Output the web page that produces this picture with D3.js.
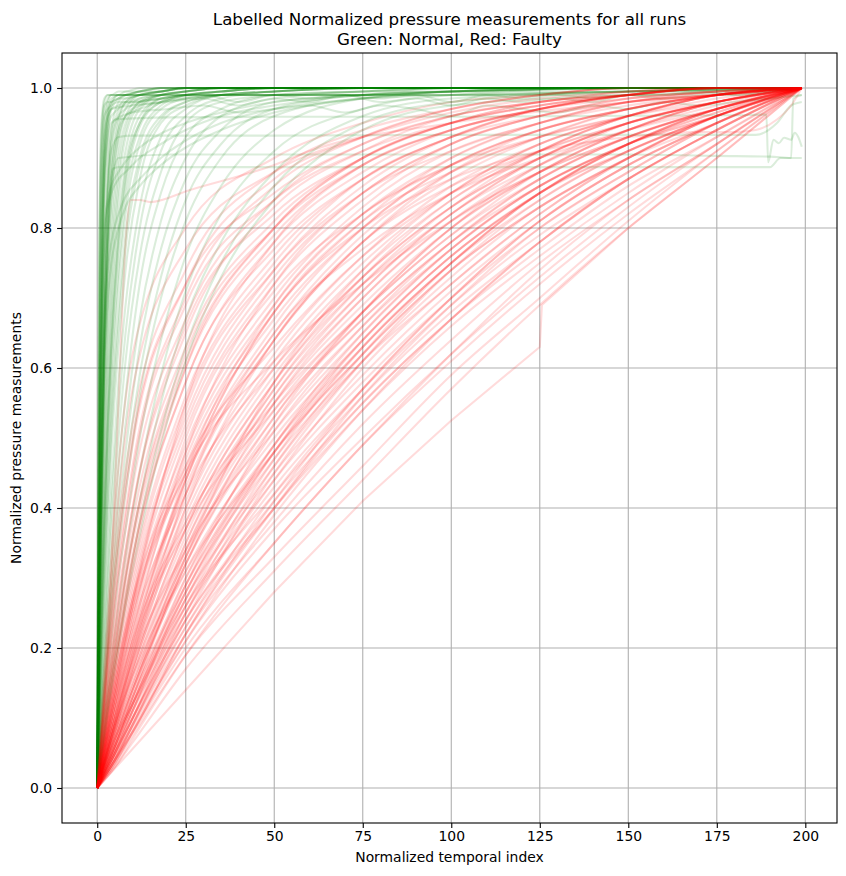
<!DOCTYPE html>
<html>
<head>
<meta charset="utf-8">
<script src="https://cdn.jsdelivr.net/npm/d3@7"></script>
<style>
  html, body { margin: 0; padding: 0; background: #fff; }
  svg { display: block; }
  text { font-family: "DejaVu Sans", sans-serif; fill: #000; }
</style>
</head>
<body>
<svg id="chart" width="846" height="876"></svg>
<script>
// ---------------- DATA ----------------
const titleLines = ["Labelled Normalized pressure measurements for all runs", "Green: Normal, Red: Faulty"];
const xLabel = "Normalized temporal index";
const yLabel = "Normalized pressure measurements";
const xTicks = [0, 25, 50, 75, 100, 125, 150, 175, 200];
const yTicks = [0.0, 0.2, 0.4, 0.6, 0.8, 1.0];

// Faulty runs (red): values sampled at these temporal indices
const redX = [0, 5, 10, 25, 50, 75, 100, 125, 150, 175, 199];
const redRuns = [
  [0,.03,.065,.17,.31,.44,.57,.69,.80,.90,1],
  [0,.035,.075,.19,.33,.46,.59,.70,.81,.91,1],
  [0,.04,.08,.20,.35,.49,.61,.72,.82,.91,1],
  [0,.04,.085,.21,.37,.50,.62,.73,.83,.92,1],
  [0,.045,.09,.22,.38,.52,.64,.75,.84,.92,1],
  [0,.05,.10,.24,.40,.54,.66,.76,.85,.93,1],
  [0,.05,.10,.24,.41,.55,.67,.77,.86,.93,1],
  [0,.055,.11,.25,.43,.57,.69,.79,.87,.94,1],
  [0,.055,.11,.26,.44,.58,.70,.80,.88,.95,1],
  [0,.06,.12,.27,.45,.59,.71,.81,.89,.95,1],
  [0,.06,.12,.28,.47,.61,.72,.82,.90,.96,1],
  [0,.065,.13,.29,.48,.62,.74,.83,.90,.96,1],
  [0,.07,.13,.30,.49,.63,.75,.84,.91,.96,1],
  [0,.07,.14,.31,.50,.64,.76,.85,.92,.97,1],
  [0,.075,.14,.32,.52,.66,.77,.86,.92,.97,1],
  [0,.08,.15,.33,.53,.67,.78,.87,.93,.97,1],
  [0,.08,.16,.34,.55,.69,.80,.88,.94,.98,1],
  [0,.085,.16,.35,.56,.70,.81,.89,.95,.98,1],
  [0,.09,.17,.37,.58,.72,.82,.90,.95,.98,1],
  [0,.09,.18,.38,.59,.73,.83,.90,.95,.98,1],
  [0,.10,.19,.40,.61,.75,.85,.92,.96,.99,1],
  [0,.10,.20,.41,.62,.76,.86,.92,.96,.99,1],
  [0,.11,.21,.43,.64,.78,.87,.93,.97,.99,1],
  [0,.12,.22,.44,.65,.79,.88,.93,.97,.99,1],
  [0,.12,.23,.46,.67,.80,.89,.94,.97,.99,1],
  [0,.13,.24,.47,.68,.81,.90,.95,.98,.99,1],
  [0,.14,.26,.49,.70,.83,.91,.95,.98,.995,1],
  [0,.15,.27,.51,.72,.84,.92,.96,.985,.995,1],
  [0,.16,.29,.53,.74,.86,.93,.97,.99,1,1],
  [0,.17,.30,.55,.75,.87,.93,.97,.99,1,1],
  [0,.19,.33,.58,.78,.88,.94,.97,.99,1,1],
  [0,.21,.36,.61,.80,.90,.95,.98,.99,1,1],
  [0,.24,.40,.65,.83,.91,.96,.98,.995,1,1],
  [0,.28,.46,.70,.86,.93,.97,.99,1,1,1],
  [0,.33,.52,.74,.88,.94,.97,.99,1,1,1],
  [0,.40,.62,.80,.90,.95,.98,.99,1,1,1],
  [0,.04,.09,.24,.45,.61,.74,.84,.91,.96,1],
  [0,.05,.11,.29,.52,.68,.80,.89,.94,.98,1],
  [0,.06,.13,.33,.58,.74,.85,.92,.96,.99,1],
  [0,.11,.20,.37,.54,.67,.78,.86,.92,.96,1],
  [0,.09,.16,.31,.48,.62,.74,.83,.90,.95,1],
  [0,.07,.12,.26,.42,.56,.68,.78,.87,.94,1],
  [0,.13,.23,.42,.60,.73,.83,.90,.95,.98,1],
  [0,.16,.27,.46,.63,.76,.85,.91,.95,.98,1],
  [0,.045,.095,.23,.40,.55,.67,.78,.87,.94,1],
  [0,.055,.115,.27,.46,.61,.73,.83,.90,.96,1],
  [0,.065,.125,.29,.49,.64,.76,.85,.92,.97,1],
  [0,.075,.145,.33,.54,.68,.79,.88,.94,.98,1],
  [0,.085,.165,.36,.57,.71,.82,.90,.95,.98,1],
  [0,.095,.185,.39,.60,.74,.84,.91,.96,.99,1],
  [0,.035,.08,.21,.39,.54,.67,.78,.87,.94,1],
  [0,.04,.09,.23,.42,.57,.70,.81,.89,.95,1],
  [0,.05,.10,.26,.47,.63,.75,.85,.92,.97,1],
  [0,.06,.12,.30,.51,.66,.78,.87,.93,.97,1],
  [0,.08,.15,.35,.57,.72,.83,.91,.96,.99,1],
  [0,.10,.19,.42,.64,.78,.88,.94,.97,.99,1],
  [0,.14,.25,.48,.69,.82,.90,.95,.98,.99,1],
  [0,.18,.31,.56,.76,.87,.93,.97,.99,1,1],
  [0,.22,.38,.63,.81,.90,.95,.98,.99,1,1],
  [0,.26,.43,.67,.84,.92,.96,.98,.995,1,1],
  [0,.03,.07,.19,.35,.49,.62,.74,.84,.92,1],
  [0,.04,.08,.22,.40,.56,.69,.80,.88,.95,1],
  [0,.05,.10,.25,.44,.60,.72,.82,.90,.96,1],
  [0,.06,.12,.28,.48,.63,.75,.85,.91,.96,1],
  [0,.07,.14,.32,.53,.68,.80,.88,.94,.98,1],
  [0,.09,.17,.37,.58,.73,.84,.91,.96,.99,1],
  [0,.11,.21,.44,.66,.80,.89,.94,.97,.99,1],
  [0,.15,.28,.52,.73,.85,.92,.96,.985,.995,1],
  [0,.20,.35,.60,.79,.89,.94,.97,.99,1,1],
  [0,.30,.49,.72,.87,.93,.97,.99,1,1,1],
  [0,.08,.17,.40,.64,.78,.86,.91,.95,.98,1],
  [0,.09,.18,.42,.65,.77,.85,.90,.94,.97,1],
  [0,.10,.20,.45,.69,.82,.89,.93,.96,.985,1],
  [0,.12,.24,.50,.71,.82,.89,.94,.97,.99,1],
  [0,.14,.27,.54,.74,.85,.91,.95,.975,.99,1],
  [0,.17,.32,.58,.77,.87,.93,.96,.98,.995,1],
  [0,.20,.36,.62,.80,.89,.94,.97,.99,1,1],
  [0,.23,.40,.66,.82,.90,.95,.975,.99,1,1],
  [0,.27,.45,.69,.84,.91,.95,.975,.99,1,1],
  [0,.31,.50,.72,.85,.92,.96,.98,.99,1,1],
  [0,.36,.57,.77,.88,.93,.965,.985,.995,1,1],
  [0,.06,.13,.32,.55,.70,.81,.88,.93,.97,1],
  [0,.07,.14,.34,.56,.71,.82,.89,.94,.975,1],
  [0,.05,.11,.28,.49,.65,.77,.86,.92,.965,1],
  [0,.045,.10,.27,.48,.64,.76,.85,.91,.96,1],
  [0,.04,.09,.25,.46,.62,.75,.85,.92,.965,1],
  [0,.035,.08,.22,.41,.57,.70,.81,.89,.95,1],
  [0,.15,.26,.45,.61,.72,.81,.88,.93,.97,1],
  [0,.12,.21,.38,.55,.68,.79,.87,.93,.97,1],
  [0,.10,.18,.34,.51,.65,.77,.86,.92,.96,1],
  [0,.09,.19,.44,.68,.81,.88,.93,.96,.98,1],
  [0,.11,.22,.48,.72,.85,.92,.96,.98,.99,1],
  [0,.13,.26,.55,.78,.89,.94,.97,.985,.995,1],
  [0,.18,.33,.60,.80,.90,.95,.975,.99,1,1]
];
// Irregular faulty runs
const redOddX  = [0, 3, 6, 8, 9.5, 12, 15, 26, 50, 60, 100, 150, 199];
const redOddY  = [0, .2, .55, .78, .84, .84, .837, .854, .89, .91, .95, .98, 1];
const redLowX  = [0, 25, 50, 75, 100, 125, 125.6, 150, 175, 199];
const redLowY  = [0, .14, .28, .41, .525, .63, .69, .80, .90, 1];
const redLateX = [0, 10, 25, 50, 75, 100, 125, 150, 170, 180, 186, 192, 196, 199];
const redLateY = [0, .25, .45, .68, .80, .87, .91, .93, .937, .937, .94, .955, .975, 1];

// Normal runs (green): values sampled at these temporal indices
const greenX = [0, 0.5, 1, 1.5, 2, 3, 4, 6, 8, 12, 18, 25, 35, 50, 75, 100, 150, 199];
const greenRuns = [
  [0,.75,.93,.97,.985,.99,.99,.995,.995,1,1,1,1,1,1,1,1,1],
  [0,.65,.88,.95,.98,.99,.99,.99,.995,.995,1,1,1,1,1,1,1,1],
  [0,.55,.80,.91,.96,.985,.99,.99,.99,.995,.995,1,1,1,1,1,1,1],
  [0,.50,.76,.88,.94,.98,.99,.99,.99,.99,.995,1,1,1,1,1,1,1],
  [0,.45,.72,.85,.92,.97,.985,.99,.99,.99,.99,.995,1,1,1,1,1,1],
  [0,.42,.68,.82,.90,.965,.98,.985,.99,.99,.99,.99,.995,1,1,1,1,1],
  [0,.70,.90,.96,.975,.98,.98,.985,.985,.99,.99,.99,.99,.99,.99,.995,1,1],
  [0,.60,.85,.93,.96,.97,.975,.98,.98,.985,.99,.99,.99,.99,.995,.995,1,1],
  [0,.48,.74,.87,.93,.96,.97,.975,.98,.98,.985,.99,.99,.99,.99,.995,.995,1],
  [0,.38,.64,.80,.89,.96,.98,.99,.99,.995,1,1,1,1,1,1,1,1],
  [0,.35,.60,.76,.86,.95,.975,.99,.99,.995,1,1,1,1,1,1,1,1],
  [0,.32,.56,.72,.83,.93,.97,.985,.99,.99,.995,1,1,1,1,1,1,1],
  [0,.28,.50,.65,.76,.88,.94,.98,.99,.995,1,1,1,1,1,1,1,1],
  [0,.25,.45,.60,.71,.85,.92,.97,.985,.99,.995,1,1,1,1,1,1,1],
  [0,.23,.42,.56,.67,.81,.89,.96,.98,.99,.995,1,1,1,1,1,1,1],
  [0,.21,.39,.52,.63,.78,.87,.95,.98,.99,.995,1,1,1,1,1,1,1],
  [0,.19,.36,.49,.60,.75,.84,.94,.97,.99,.995,1,1,1,1,1,1,1],
  [0,.18,.33,.46,.56,.71,.81,.92,.96,.985,.99,.995,1,1,1,1,1,1],
  [0,.26,.47,.62,.73,.86,.92,.96,.97,.98,.985,.99,.99,.99,.99,.99,.995,1],
  [0,.22,.41,.55,.66,.80,.88,.94,.96,.97,.98,.985,.99,.99,.99,.99,.99,1],
  [0,.20,.37,.50,.61,.76,.85,.93,.96,.975,.98,.985,.99,.99,.99,.99,.995,1],
  [0,.17,.31,.43,.53,.68,.78,.90,.95,.98,.99,.995,1,1,1,1,1,1],
  [0,.16,.29,.40,.50,.65,.75,.88,.94,.98,.99,.995,1,1,1,1,1,1],
  [0,.14,.27,.37,.47,.61,.72,.86,.93,.975,.99,.995,1,1,1,1,1,1],
  [0,.13,.25,.35,.44,.58,.69,.84,.91,.97,.99,.995,1,1,1,1,1,1],
  [0,.12,.23,.32,.41,.55,.66,.81,.89,.96,.985,.99,.995,1,1,1,1,1],
  [0,.12,.22,.31,.39,.53,.64,.79,.88,.95,.985,.99,.995,1,1,1,1,1],
  [0,.11,.21,.30,.38,.52,.63,.78,.87,.95,.98,.99,.995,1,1,1,1,1],
  [0,.11,.20,.29,.37,.51,.62,.77,.86,.945,.98,.99,.995,1,1,1,1,1],
  [0,.10,.19,.27,.35,.48,.59,.74,.84,.93,.975,.99,.995,1,1,1,1,1],
  [0,.10,.18,.26,.33,.46,.56,.72,.82,.92,.97,.985,.99,.995,1,1,1,1],
  [0,.09,.17,.24,.31,.43,.53,.68,.79,.90,.96,.98,.99,.995,1,1,1,1],
  [0,.085,.16,.23,.29,.41,.51,.66,.77,.89,.955,.98,.99,.995,1,1,1,1],
  [0,.08,.15,.21,.27,.38,.48,.63,.74,.87,.95,.975,.99,.995,1,1,1,1],
  [0,.07,.13,.19,.24,.34,.43,.58,.69,.83,.93,.97,.99,.995,1,1,1,1],
  [0,.065,.12,.17,.22,.31,.40,.54,.65,.80,.91,.96,.985,.995,1,1,1,1],
  [0,.06,.11,.16,.20,.29,.37,.50,.61,.76,.88,.95,.98,.99,.995,1,1,1],
  [0,.05,.10,.14,.18,.26,.33,.46,.56,.72,.85,.93,.97,.99,.995,1,1,1],
  [0,.045,.09,.13,.17,.24,.30,.42,.52,.67,.81,.90,.96,.985,.995,1,1,1],
  [0,.04,.08,.12,.15,.22,.28,.39,.48,.63,.77,.87,.94,.98,.99,.995,1,1],
  [0,.04,.075,.11,.14,.20,.26,.36,.45,.59,.73,.84,.92,.97,.99,.995,1,1],
  [0,.035,.07,.10,.13,.19,.24,.34,.42,.56,.70,.81,.90,.96,.985,.99,.995,1],
  [0,.03,.06,.09,.11,.16,.21,.30,.37,.50,.64,.76,.86,.94,.985,.995,1,1],
  [0,.025,.05,.075,.10,.14,.18,.26,.33,.45,.59,.71,.82,.91,.97,.99,1,1],
  [0,.02,.045,.065,.09,.13,.16,.23,.30,.41,.55,.67,.78,.88,.96,.985,.995,1],
  [0,.02,.04,.06,.08,.115,.15,.21,.27,.38,.51,.63,.75,.86,.95,.98,.995,1],
  [0,.02,.04,.055,.07,.11,.14,.20,.26,.36,.49,.61,.73,.84,.94,.975,.99,1],
  [0,.30,.55,.70,.78,.83,.85,.87,.88,.90,.92,.94,.96,.975,.99,.995,1,1],
  [0,.35,.60,.74,.80,.84,.86,.88,.895,.915,.935,.95,.965,.98,.99,1,1,1],
  [0,.25,.45,.58,.66,.74,.78,.82,.845,.87,.90,.925,.95,.97,.985,.995,1,1],
  [0,.20,.38,.50,.60,.70,.75,.80,.83,.86,.89,.915,.94,.965,.985,.995,1,1]
];
// Normal runs that hover just under 1.0 with small wiggles
const greenWigX  = [0, 1, 2, 4, 10, 20, 30, 40, 50, 60, 70, 80, 90, 100, 110, 120, 130, 140, 150, 160, 170, 180, 190, 199];
const greenWig1Y = [0, .6, .9, .97, .975, .98, .985, .975, .985, .98, .99, .98, .985, .975, .985, .98, .985, .98, .99, .985, .99, .99, .995, 1];
const greenWig2Y = [0, .5, .85, .95, .965, .97, .975, .965, .97, .975, .965, .975, .97, .96, .975, .97, .965, .975, .97, .98, .975, .98, .985, .99];
const greenWig3Y = [0, .55, .88, .96, .98, .985, .99, .98, .99, .985, .99, .985, .99, .98, .99, .985, .99, .985, .99, .99, .995, .99, .995, 1];
// Normal runs with a flat plateau below 1.0
const greenP96X = [0, 1, 2, 3, 4, 5, 20, 60, 100, 140, 180, 189, 189.5, 191, 192.5, 194, 196, 197, 198, 199];
const greenP96Y = [0, .4, .72, .88, .94, .955, .958, .959, .959, .96, .961, .962, .894, .926, .921, .929, .926, .936, .93, .916];
const greenP93X = [0, 1, 2, 3, 4, 6, 10, 50, 100, 150, 186, 192, 196, 199];
const greenP93Y = [0, .35, .65, .83, .91, .93, .932, .932, .933, .933, .933, .95, .975, .98];
const greenP90X = [0, 1, 2, 3, 4, 6, 20, 100, 150, 175, 190, 196, 196.6, 199];
const greenP90Y = [0, .3, .6, .78, .86, .9, .905, .905, .905, .903, .902, .90, .985, .99];
const greenP89X = [0, 1, 2, 3, 4.5, 6, 50, 100, 150, 190, 193, 195, 199];
const greenP89Y = [0, .35, .65, .8, .885, .887, .887, .887, .887, .887, .90, .90, .90];

// ---------------- CHART ----------------
const M = { left: 62, right: 837, top: 53, bottom: 823 };
const svg = d3.select("#chart");

const x = d3.scaleLinear().domain([-9.95, 208.95]).range([M.left, M.right]);
const y = d3.scaleLinear().domain([-0.05, 1.05]).range([M.bottom, M.top]);

const GREEN = "#008000", RED = "#ff0000", ALPHA = 0.14;

// grid (below lines)
const grid = svg.append("g");
grid.selectAll("line.vx").data(xTicks).join("line")
  .attr("x1", d => x(d)).attr("x2", d => x(d)).attr("y1", M.top).attr("y2", M.bottom)
  .attr("stroke", "#b0b0b0").attr("stroke-width", 1.1);
grid.selectAll("line.hy").data(yTicks).join("line")
  .attr("y1", d => y(d)).attr("y2", d => y(d)).attr("x1", M.left).attr("x2", M.right)
  .attr("stroke", "#b0b0b0").attr("stroke-width", 1.1);

// build series
const zip = (xs, ys) => xs.map((v, i) => [v, ys[i]]);
const redSeries = redRuns.map(r => ({ pts: zip(redX, r) }));
redSeries.splice(10, 0, { pts: zip(redOddX, redOddY) });
redSeries.splice(30, 0, { pts: zip(redLowX, redLowY), linear: true });
redSeries.splice(50, 0, { pts: zip(redLateX, redLateY) });
const greenSeries = greenRuns.map(r => ({ pts: zip(greenX, r) }));
greenSeries.splice(5, 0, { pts: zip(greenWigX, greenWig1Y) });
greenSeries.splice(15, 0, { pts: zip(greenP96X, greenP96Y) });
greenSeries.splice(20, 0, { pts: zip(greenWigX, greenWig2Y) });
greenSeries.splice(25, 0, { pts: zip(greenP93X, greenP93Y) });
greenSeries.splice(32, 0, { pts: zip(greenP89X, greenP89Y) });
greenSeries.splice(38, 0, { pts: zip(greenWigX, greenWig3Y) });
greenSeries.splice(44, 0, { pts: zip(greenP90X, greenP90Y) });

const all = [];
const n = Math.max(redSeries.length, greenSeries.length);
for (let i = 0; i < n; i++) {
  if (i < greenSeries.length) all.push({ c: GREEN, ...greenSeries[i] });
  if (i < redSeries.length) all.push({ c: RED, ...redSeries[i] });
}

const lineSmooth = d3.line().x(d => x(d[0])).y(d => y(d[1])).curve(d3.curveMonotoneX);
const lineStraight = d3.line().x(d => x(d[0])).y(d => y(d[1]));

svg.append("defs").append("clipPath").attr("id", "clip")
  .append("rect").attr("x", M.left).attr("y", M.top)
  .attr("width", M.right - M.left).attr("height", M.bottom - M.top);

svg.append("g").attr("clip-path", "url(#clip)")
  .selectAll("path").data(all).join("path")
  .attr("d", d => (d.linear ? lineStraight : lineSmooth)(d.pts))
  .attr("fill", "none")
  .attr("stroke", d => d.c)
  .attr("stroke-opacity", ALPHA)
  .attr("stroke-width", 2.1)
  .attr("stroke-linejoin", "round")
  .attr("stroke-linecap", "butt");

// axes
const fs = 13.9;
const xAxis = svg.append("g").attr("transform", `translate(0,${M.bottom})`)
  .call(d3.axisBottom(x).tickValues(xTicks).tickFormat(d3.format("d")).tickSize(4.9).tickPadding(3.5));
const yAxis = svg.append("g").attr("transform", `translate(${M.left},0)`)
  .call(d3.axisLeft(y).tickValues(yTicks).tickFormat(d3.format(".1f")).tickSize(4.9).tickPadding(4.9));
[xAxis, yAxis].forEach(a => {
  a.select(".domain").remove();
  a.selectAll(".tick line").attr("stroke", "#000").attr("stroke-width", 1.1);
  a.selectAll(".tick text").attr("font-family", "DejaVu Sans").attr("font-size", fs).attr("fill", "#000");
});

// frame
svg.append("rect").attr("x", M.left).attr("y", M.top)
  .attr("width", M.right - M.left).attr("height", M.bottom - M.top)
  .attr("fill", "none").attr("stroke", "#000").attr("stroke-width", 1.1);

// labels
const cx = (M.left + M.right) / 2;
svg.append("text").attr("x", cx).attr("y", 862).attr("text-anchor", "middle")
  .attr("font-size", fs).text(xLabel);
svg.append("text").attr("transform", `translate(21,${(M.top + M.bottom) / 2}) rotate(-90)`)
  .attr("text-anchor", "middle").attr("font-size", fs).text(yLabel);
svg.append("text").attr("x", cx).attr("y", 24.5).attr("text-anchor", "middle")
  .attr("font-size", 16.7).text(titleLines[0]);
svg.append("text").attr("x", cx).attr("y", 45).attr("text-anchor", "middle")
  .attr("font-size", 16.7).text(titleLines[1]);
</script>
</body>
</html>
